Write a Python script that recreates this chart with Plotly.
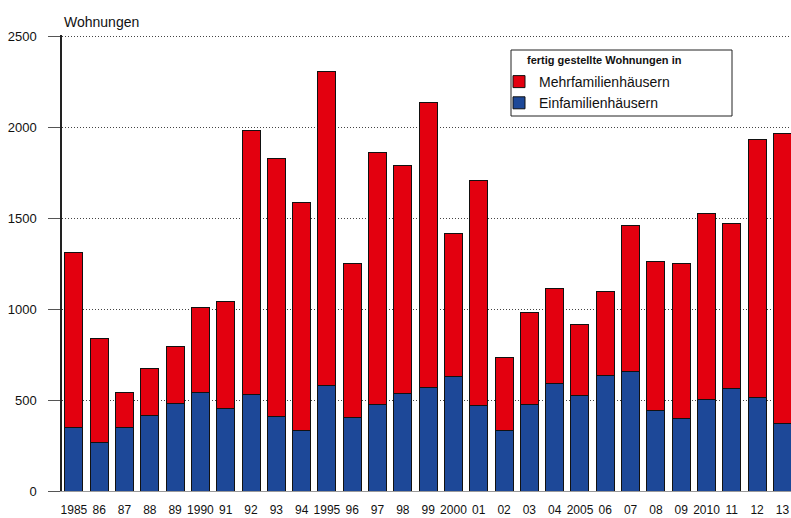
import plotly.graph_objects as go

years = ["1985", "86", "87", "88", "89", "1990", "91", "92", "93", "94", "1995", "96", "97",
         "98", "99", "2000", "01", "02", "03", "04", "2005", "06", "07", "08", "09", "2010",
         "11", "12", "13"]
totals = [1313, 840, 542, 672, 798, 1009, 1042, 1983, 1828, 1589, 2308, 1254, 1861,
          1791, 2137, 1416, 1708, 737, 982, 1112, 917, 1097, 1460, 1263, 1254, 1526,
          1471, 1935, 1968]
einfamilien = [352, 269, 347, 413, 481, 544, 455, 529, 411, 334, 579, 402, 477,
               536, 568, 632, 472, 334, 477, 593, 527, 638, 656, 444, 398, 505,
               562, 512, 371]
mehrfamilien = [t - e for t, e in zip(totals, einfamilien)]
y_ticks = [0, 500, 1000, 1500, 2000, 2500]

FONT = "Liberation Sans, Arial, sans-serif"
RED = "#e3000f"
BLUE = "#1d4898"

# plot area: x 62..791, y 35..491 (456 px for 0..2510)
TOP, BOTTOM, LEFT, RIGHT = 35, 491, 62, 791
PW, PH = RIGHT - LEFT, BOTTOM - TOP


def px(x):
    return (x - LEFT) / PW


def py(y):
    return (BOTTOM - y) / PH


fig = go.Figure()
fig.add_trace(go.Bar(x=years, y=einfamilien, name="Einfamilienhäusern",
                     marker=dict(color=BLUE, line=dict(color="#111111", width=1)),
                     width=0.71))
fig.add_trace(go.Bar(x=years, y=mehrfamilien, name="Mehrfamilienhäusern",
                     marker=dict(color=RED, line=dict(color="#111111", width=1)),
                     width=0.71))

fig.update_layout(
    barmode="stack",
    width=791, height=518,
    margin=dict(l=LEFT, r=791 - RIGHT, t=TOP, b=518 - BOTTOM),
    paper_bgcolor="white", plot_bgcolor="white",
    font=dict(family=FONT, size=13, color="#111111"),
    showlegend=True,
    legend=dict(
        x=px(499), y=py(66), xanchor="left", yanchor="top",
        traceorder="reversed",
        borderwidth=0, bgcolor="rgba(0,0,0,0)",
        font=dict(size=14, family=FONT),
        itemwidth=30, tracegroupgap=0,
    ),
    bargap=0.29,
)
fig.update_xaxes(
    type="category", range=[-0.47, 28.34],
    showline=True, linecolor="#9a9a9a", linewidth=1,
    ticks="", showgrid=False, tickangle=0, automargin=False,
    tickfont=dict(size=12, family=FONT, color="#111111"),
    ticklabelstandoff=8,
)
fig.update_yaxes(
    range=[0, 2510], tickvals=y_ticks,
    showline=True, linecolor="#222222", linewidth=1.5,
    ticks="outside", ticklen=12, tickcolor="#555555",
    showgrid=True, gridcolor="#444444", griddash="1px,2px", gridwidth=1,
    zeroline=False, automargin=False,
    tickfont=dict(size=13, family=FONT, color="#111111"),
    ticklabelstandoff=9,
)
fig.add_annotation(text="Wohnungen", xref="paper", yref="paper", x=0, y=py(22),
                   xanchor="left", yanchor="middle", showarrow=False,
                   font=dict(size=14, family=FONT, color="#111111"))
# legend title and frame
fig.add_annotation(text="<b>fertig gestellte Wohnungen in</b>", xref="paper", yref="paper",
                   x=px(525), y=py(60), xanchor="left", yanchor="middle",
                   showarrow=False, font=dict(size=11, family=FONT, color="#111111"))
fig.add_shape(type="rect", xref="paper", yref="paper",
              x0=px(511), x1=px(732), y0=py(116), y1=py(50),
              line=dict(color="#222222", width=1), fillcolor="rgba(0,0,0,0)", layer="above")

fig.write_html("out.html", config={"displayModeBar": False},
               post_script="document.body.style.margin='0';")
